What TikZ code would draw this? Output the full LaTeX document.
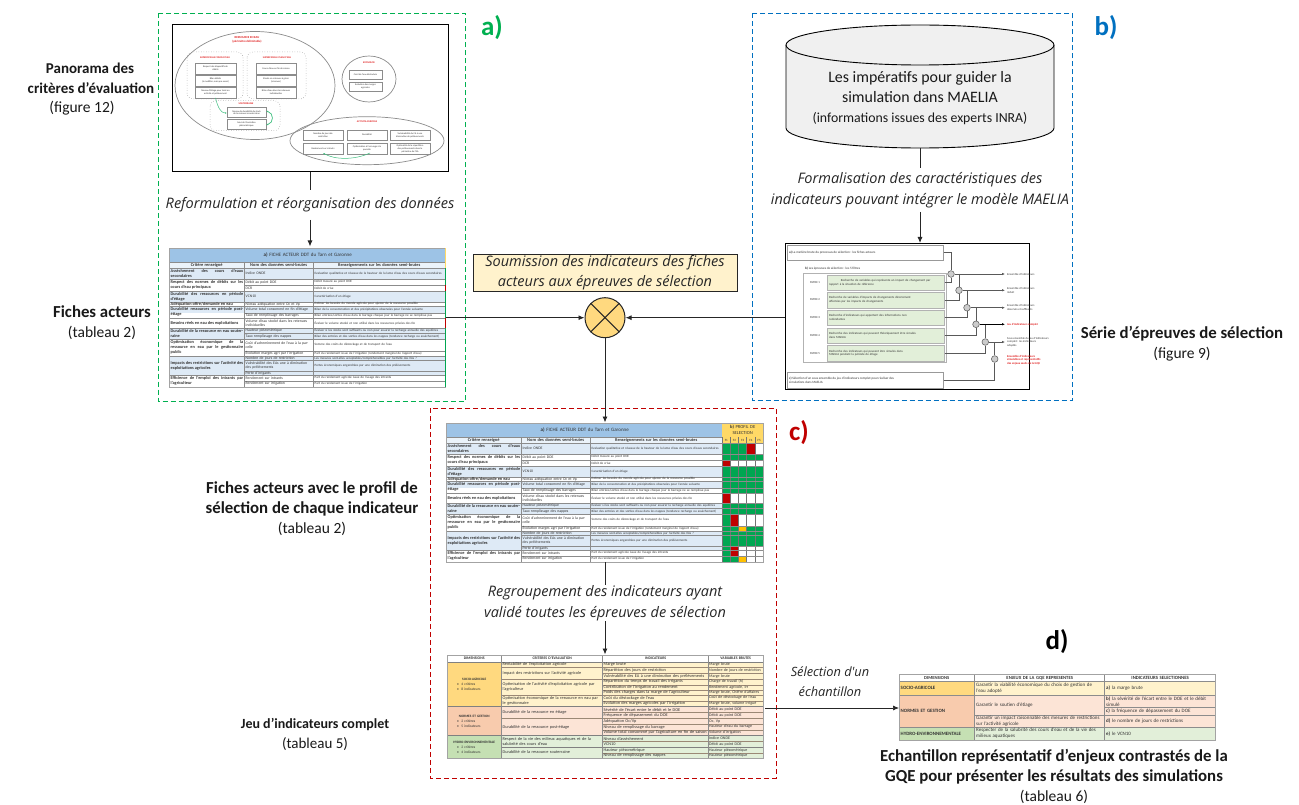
\documentclass[tikz,border=0pt]{standalone}
\usepackage{fontspec}
\setmainfont{Carlito}
\newfontfamily\itf{Open Sans}
\usetikzlibrary{arrows.meta,calc}
\definecolor{tb}{HTML}{DEEAF6}
\definecolor{tw}{HTML}{FFFFFF}
\definecolor{thead}{HTML}{9DC3E6}
\definecolor{tgrid}{HTML}{8C8C8C}
\definecolor{pg}{HTML}{00A651}
\definecolor{pr}{HTML}{C00000}
\definecolor{po}{HTML}{FFC000}
\definecolor{pw}{HTML}{FFFFFF}
\definecolor{phead}{HTML}{FFD966}
\definecolor{sd}{HTML}{FFD97F}
\definecolor{sc}{HTML}{FFF2CC}
\definecolor{nd}{HTML}{F8CBAD}
\definecolor{nc}{HTML}{FCE4D6}
\definecolor{hd}{HTML}{C5E0B3}
\definecolor{hc}{HTML}{E2EFD9}
\definecolor{fgreen}{HTML}{E2EFD9}
\definecolor{frA}{HTML}{00B050}
\definecolor{frB}{HTML}{0070C0}
\definecolor{frC}{HTML}{C00000}
\definecolor{ink}{HTML}{333333}
\definecolor{redt}{HTML}{E02020}
\definecolor{curve}{HTML}{40C080}
\newcounter{cl}
\newcommand{\fs}[1]{\fontsize{#1}{\dimexpr #1pt*12/10\relax}\selectfont}
\newcommand{\pa}[1]{\fontsize{#1}{20}\selectfont}
% small text: x, y centre, width, size, text
\newcommand{\cel}[6][left]{\stepcounter{cl}\node[celltext,align=#1,text width=#4,font=\fs{#5}] (t\arabic{cl}) at (#2,#3) {#6};}
\newcommand{\fichetable}{%
  \foreach \ya/\yb/\cc in {443/454/tb,454/466/tw,466/477/tb,477/481/tw,481/488/tb,488/493/tw,493/503/tw,503/514/tb,514/531/tw,531/550/tb,550/562/tw}
    {\fill[\cc] (446,\ya) rectangle (722,\yb);}
  \fill[thead] (446,423) rectangle (722,437);
  \fill[tb!60] (446,437) rectangle (722,443);
  \foreach \yy in {443,454,466,477,481,493,503,514,531,550}{\draw[tline] (446,\yy) -- (722,\yy);}
  \foreach \yy in {437,460,488,508.5,526,535.5,546,556}{\draw[tline] (521,\yy) -- (722,\yy);}
  \draw[tline] (446,437) -- (521,437);
  \foreach \xx in {521,590}{\draw[tline] (\xx,437) -- (\xx,562);}
  \draw[tframe] (446,423) rectangle (722,562);
  \cel[center]{447}{430}{275}{5}{\textbf{a)} FICHE ACTEUR DDT du Tarn et Garonne}
  \cel[center]{447}{440}{73}{4.4}{\textbf{Critère renseigné}}
  \cel[center]{522}{440}{67}{4.4}{\textbf{Nom des données semi-brutes}}
  \cel[center]{591}{440}{130}{4.3}{\textbf{Renseignements sur les données semi-brutes}}
  \foreach \yc/\tx in {448.5/{Assèchement des cours d'eaux secondaires},460/{Respect des normes de débits sur les cours d'eau principaux},471.5/{Durabilité des ressources en période d'étiage},479/{Adéquation offre/demande en eau},487/{Durabilité ressources en période post-étiage},498/{Besoins réels en eau des exploitations},508.5/{Durabilité de la ressource en eau souterraine},522.5/{Optimisation économique de la ressource en eau par le gestionnaire public},540.5/{Impacts des restrictions sur l'activité des exploitations agricoles},556/{Efficience de l'emploi des intrants par l'agriculteur}}
    {\cel[justify]{447.5}{\yc}{72.5}{4.3}{\textbf{\tx}}}
  \foreach \yc/\tx in {448.5/{Indice ONDE},457/{Débit au point DOE},463/{DCR},471.5/{VCN10},479/{Niveau adéquation entre Oc et Vp},484.5/{Volume total consommé en fin d'étiage},490.5/{Taux de remplissage des barrages},498/{Volume d'eau stocké dans les retenues individuelles},505.7/{Hauteur piézométrique},511.3/{Taux remplissage des nappes},520/{Coût d'acheminement de l'eau à la parcelle},528.5/{Évolution marges agri par l'irrigation},533.2/{Nombre de jours de restriction},540.7/{Vulnérabilité des EAs une à diminution des prélèvements},548/{Perte d'irrigants},553/{Rendement sur intrants},559/{Rendement sur irrigation}}
    {\cel{522.5}{\yc}{66}{3.8}{\tx}}
  \foreach \yc/\tx in {448.5/{Evaluation qualitative et niveaux de la hauteur de la lame d'eau des cours d'eaux secondaires},457/{Débit mesuré au point DOE},463/{Débit de crise},471.5/{Caractérisation d'un étiage},479/{Estimer les besoins du monde agricole pour ajuster de la ressource possible},484.5/{Bilan de la consommation et des précipitations observées pour l'année suivante},490.5/{Bilan entrées/sorties d'eau dans le barrage chaque jour le barrage ne se remplisse pas},498/{Évaluer le volume stocké et non utilisé dans les ressources privées des EA},505.7/{Évaluer si les stocks sont suffisants ou non pour assurer la recharge annuelle des aquifères},511.3/{Bilan des entrées et des sorties d'eau dans les nappes (tendance recharge ou assèchement)},520/{Somme des coûts de déstockage et de transport de l'eau},528.5/{Part du rendement issue de l'irrigation (rendement marginal de l'apport d'eau)},533.2/{Les mesures sont-elles acceptables/compréhensibles par l'activité des EAs ?},540.7/{Pertes économiques engendrées par une diminution des prélèvements},553/{Part du rendement agricole issue de l'usage des intrants},559/{Part du rendement issue de l'irrigation}}
    {\cel{591.5}{\yc}{130}{3.25}{\tx}}
}
\newcommand{\jeuline}[2]{\draw[jline] (#1,#2) -- (763,#2);}
\tikzset{
  celltext/.style={anchor=west,inner sep=0pt,text=ink},
  tline/.style={draw=tgrid,line width=.45pt},
  tframe/.style={draw=tgrid!80,line width=.9pt},
  jline/.style={draw=tgrid!70!brown,line width=.4pt},
  conn/.style={draw=black!85,line width=.95pt},
  arr/.style={conn,-{Latex[length=6pt,width=5pt]}},
  lbl/.style={inner sep=0pt,align=center,font=\fontsize{16.8}{20}\selectfont,text=black!90},
  itl/.style={inner sep=0pt,align=center,font=\itf\itshape\fontsize{14.5}{20.5}\selectfont,text=black!85},
  frlab/.style={inner sep=0pt,font=\bfseries\fontsize{27}{27}\selectfont},
  dbox/.style={draw=black!45,line width=.6pt,fill=white},
  dotbox/.style={draw=black!45,line width=.5pt,dotted,rounded corners=6pt},
  oval/.style={draw=black!45,line width=.7pt},
  tree/.style={draw=black!65,line width=.6pt},
  treearr/.style={tree,-{Latex[length=3pt,width=2.5pt]}},
  junct/.style={circle,draw=black!60,fill=black!20,line width=.6pt,inner sep=0pt,minimum size=6.6pt},
  thumb/.style={inner sep=0pt,align=center,font=\fs{2.8},text=ink},
  redh/.style={inner sep=0pt,align=center,font=\bfseries\fs{3},text=redt},
  filt/.style={draw=black!30,fill=fgreen,line width=.5pt,inner sep=0pt,align=left},
  side/.style={inner sep=0pt,anchor=west,font=\fs{2.9},text=ink,align=left},
  sider/.style={side,font=\bfseries\fs{2.9},text=redt}
}
\begin{document}
\begin{tikzpicture}[x=1pt,y=-1pt]
\useasboundingbox (0,0) rectangle (1299,805);
\fill[white] (0,0) rectangle (1299,805);

% ---- dashed frames
\draw[frA,dashed,line width=1pt,dash pattern=on 5pt off 3pt] (158,13.5) rectangle (465,401);
\draw[frB,dashed,line width=1pt,dash pattern=on 5pt off 3pt] (752,13.5) rectangle (1072,400);
\draw[frC,dashed,line width=1pt,dash pattern=on 5pt off 3pt] (430,408) rectangle (776,778);
\node[frlab,text=frA] (la) at (492,28) {a)};
\node[frlab,text=frB] (lb) at (1106,28) {b)};
\node[frlab,text=frC] (lc) at (799,433) {c)};
\node[frlab,text=black] (ld) at (1057,642) {d)};

% ---- panorama thumbnail
\node[draw=black,line width=1.2pt,minimum width=276pt,minimum height=147pt,inner sep=0pt,anchor=north west] (pano) at (172,24) {};
\draw[oval] (255,85.5) ellipse (80 and 54);
\draw[dotbox] (187,52) rectangle (243,99);
\draw[dotbox] (247,52) rectangle (306,99);
\draw[dotbox,fill=white] (210,100.7) rectangle (280,130.7);
\draw[oval] (369,79) ellipse (27 and 23);
\draw[oval] (367,140.7) ellipse (77 and 24);
\node[redh] (r1) at (247,39.5) {RESSOURCE EN EAU\\(périmètre délimitable)};
\node[redh,font=\bfseries\fs{2.5}] (r2) at (215,58) {SUPERFICIELLE COURS D'EAU};
\node[redh,font=\bfseries\fs{2.5}] (r3) at (277,58) {SUPERFICIELLE PLAN D'EAU};
\node[redh,font=\bfseries\fs{2.5}] (r4) at (246,104) {SOUTERRAINE};
\node[redh,font=\bfseries\fs{2.5}] (r5) at (369,63) {ECONOMIE};
\node[redh,font=\bfseries\fs{2.5}] (r6) at (367,122) {ACTIVITE AGRICOLE};
\foreach \xa/\ya/\xb/\yb/\nm/\tx in {
 195/63/236/74/p1/{Respect des dispositifs de\\débits},
 195/75/236/86/p2/{Bilan débits\\(à modifier, mais pas assez)},
 195/87/236/98/p3/{Niveau d'étiage pour tenir en\\activité et prélèvement},
 256/63/296/74/p4/{Cours d'eau en fin de saison},
 256/75/296/86/p5/{Stocks en retenues à gérer\\(réserves)},
 256/87/296/98/p6/{Bilan d'eau dans les retenues\\individuelles},
 227/107.7/266/117.7/p7/{Niveau de durabilité du stock\\de la ressource souterraine},
 227/119.3/266/129/p8/{Suivi de l'évolution\\piézométrique},
 349/70/382/79.3/p9/{Coût de l'eau déstockée},
 349/82.3/382/91/p10/{Evolution des marges\\agricoles},
 303/130/343/140/p11/{Nombre de jours de\\restriction},
 347/130/387/140/p12/{Durabilité},
 390/130/430/140/p13/{Vulnérabilité du CA à une\\diminution de prélèvements},
 303/143/343/154/p14/{Rendement sur intrants},
 347/143/387/154/p15/{Optimisation à l'arrosage à la\\parcelle},
 390/143/430/154/p16/{Optimalité de la répartition\\des prélèvements dans le\\périmètre de l'EA}}
 {\draw[dbox] (\xa,\ya) rectangle (\xb,\yb);
  \node[thumb,font=\fs{2.4}] (\nm) at ({(\xa+\xb)/2},{(\ya+\yb)/2}) {\tx};}
\draw[curve,line width=.5pt,-{Latex[length=2pt,width=1.6pt]}] (215.5,98) .. controls (218,108) and (221,113) .. (227,113);
\draw[curve,line width=.7pt,{Latex[length=2pt,width=1.6pt]}-{Latex[length=2pt,width=1.6pt]}] (266,111) .. controls (274,113) and (274,123) .. (266,125);
\draw[curve,line width=.5pt,{Latex[length=2pt,width=1.6pt]}-] (323,153) .. controls (335,160) and (355,160) .. (370,153);

\coordinate (pa) at (310,190);
\node[itl] (t1) at (310,205) {Reformulation et réorganisation des données};
\coordinate (pb) at (310,220);
\draw[conn] (pano.south -| pa) -- (pa);
\draw[arr] (pb) -- (310,246.5);

% ---- fiche a)
\begin{scope}[shift={(-277,-175)}]
  \fichetable
  \fill[phead] (722.4,423) rectangle (723.4,443);
  \foreach \ya/\yb/\cc in {443/460/pg,460/466/pr,466/493/pg,493/503/pr,503/562/pg}{\fill[\cc] (722.4,\ya) rectangle (723.4,\yb);}
  \coordinate (fa) at (722,493);
\end{scope}
\coordinate (fb) at (446,247);

% ---- side labels
\node[lbl,font=\bfseries\fontsize{15}{20}\selectfont] (s1a) at (90,68) {Panorama des};
\node[lbl,font=\bfseries\fontsize{15}{20}\selectfont] (s1b) at (91,88) {critères d'évaluation};
\node[lbl,font=\fontsize{15.5}{20}\selectfont] (s1c) at (82,108) {(figure 12)};
\node[lbl] (s2) at (102,323) {\textbf{Fiches acteurs}\\\pa{15.5}(tableau 2)};
\node[lbl] (s3) at (1182,344) {\textbf{Série d'épreuves de sélection}\\\pa{15.5}(figure 9)};
\node[lbl] (s4) at (312,508.5) {\textbf{Fiches acteurs avec le profil de}\\\textbf{sélection de chaque indicateur}\\\pa{15.5}(tableau 2)};
\node[lbl,font=\fontsize{14}{20}\selectfont] (s5) at (315,734) {\textbf{Jeu d'indicateurs complet}\\\pa{15}(tableau 5)};
\node[lbl] (s6) at (1054,776.5) {\textbf{Echantillon représentatif d'enjeux contrastés de la}\\\textbf{GQE pour présenter les résultats des simulations}\\\pa{15.5}(tableau 6)};

% ---- cylinder
\fill[black!6] (786,45) arc[start angle=180,end angle=360,x radius=134,y radius=20] -- (1054,128) arc[start angle=0,end angle=180,x radius=134,y radius=20] -- cycle;
\draw[black,line width=.9pt] (786,45) arc[start angle=180,end angle=-180,x radius=134,y radius=20];
\draw[black,line width=.9pt] (786,45) -- (786,128) arc[start angle=180,end angle=0,x radius=134,y radius=20] -- (1054,45);
\node[lbl,font=\fontsize{15.9}{20}\selectfont] (cy) at (920,98) {Les impératifs pour guider la\\simulation dans MAELIA\\\pa{13.8}(informations issues des experts INRA)};
\coordinate (cyb) at (920,148);
\coordinate (cyc) at (920,168);
\node[itl] (t2) at (920,190) {Formalisation des caractéristiques des\\indicateurs pouvant intégrer le modèle MAELIA};
\coordinate (cyd) at (920,212);
\draw[conn] (cyb) -- (cyc);

% ---- filters thumbnail
\node[draw=black,line width=1.2pt,minimum width=244pt,minimum height=146pt,inner sep=0pt,anchor=north west] (ser) at (785,243) {};
\draw[arr] (cyd) -- (ser.north -| cyd);
\node[dbox,draw=black!40,inner sep=0pt,minimum width=156pt,minimum height=15pt,anchor=north west] (ba) at (787,245) {};
\node[thumb,anchor=west,font=\fs{3.3}] (bat) at (789,252.5) {\textbf{a)} La matière brute du processus de sélection : les fiches acteurs};
\node[thumb,anchor=west,font=\fs{3.3}] (bbt) at (805,269) {\textbf{b)} Les épreuves de sélection : les 5 filtres};
\node[draw=black!30,fill=white,line width=.8pt,inner sep=0pt,minimum width=143pt,minimum height=89pt,anchor=north west] (bb) at (803,273) {};
\foreach \nm/\yy/\hh/\lab/\tx in {
 f1/275/15/1/{\centering Recherche de variables qui représente un impact de changement par\\ rapport à la situation de référence},
 f2/292.3/15.4/2/{Recherche de variables d'impacts de changements directement\\ affectées par les impacts de changements},
 f3/310/15/3/{Recherche d'indicateurs qui apportent des informations non\\ redondantes},
 f4/327.7/15.6/4/{Recherche des indicateurs qui peuvent théoriquement être simulés\\ dans MAELIA},
 f5/345.3/15.7/5/{Recherche des indicateurs qui peuvent être simulés dans\\ MAELIA pendant la période de étiage}}
 {\node[filt,minimum width=117pt,minimum height=\hh pt,anchor=north west] (\nm) at (827,\yy) {};
  \node[thumb,anchor=west,align=left,text width=113pt,font=\fs{3.1}] (\nm t) at (829,\yy+\hh/2) {\tx};
  \node[thumb,font=\fs{3}] (\nm l) at (815,\yy+\hh/2) {FILTRE \lab};}
\node[dbox,draw=black!40,inner sep=0pt,minimum width=156pt,minimum height=16pt,anchor=north west] (bc) at (787,372) {};
\node[thumb,anchor=west,align=left,font=\fs{3.3}] (bct) at (789,380) {\textbf{c)} Sélection d'un sous ensemble du jeu d'indicateurs complet pour réaliser des\\simulations dans MAELIA};
\foreach \nm/\xx/\yy in {c1/951/274,c2/959/290.3,c3/967/307.7,c4/976/324.3,c5/985.3/342,c6/994.7/359}
 {\node[junct] (\nm) at (\xx,\yy) {};}
\draw[tree] (ba.east) -| (c1);
\draw[tree] (f1.east) -| (c1);
\draw[tree] (f2.east) -| (c2);
\draw[tree] (f3.east) -| (c3);
\draw[tree] (f4.east) -| (c4);
\draw[tree] (f5.east) -| (c5);
\draw[tree] (bc.east) -| (c6);
\draw[tree] (c2|-c1) -- (c2);
\draw[tree] (c3|-c2) -- (c3);
\draw[tree] (c4|-c3) -- (c4);
\draw[tree] (c5|-c4) -- (c5);
\draw[tree] (c6|-c5) -- (c6);
\foreach \nm/\yy in {e1/274,e2/290.3,e3/307.7,e4/324.3,e5/342}{\coordinate (\nm) at (1005,\yy);}
\draw[treearr] (c1) -- (e1);
\draw[treearr] (c2) -- (e2);
\draw[treearr] (c3) -- (e3);
\draw[treearr,draw=black] (c4) -- (e4);
\draw[treearr] (c5) -- (e5);
\node[side] (l1) at (1007,274) {Ensemble d'indicateurs};
\node[side] (l2) at (1007,290.3) {Ensemble d'indicateurs\\réduit};
\node[side] (l3) at (1007,307.7) {Ensemble d'indicateurs\\observés et suffisants};
\node[sider] (l4) at (1007,324.3) {Jeu d'indicateurs complet};
\node[side] (l5) at (1007,342) {Sous ensemble du jeu d'indicateurs\\complet : les indicateurs\\adaptés};
\node[sider] (l6) at (1007,360) {Ensemble d'indicateurs\\simulables et représentatifs\\des enjeux seuils de la GQE};

% ---- soumission + junction
\node[draw=black!85,fill=sc,line width=1pt,inner sep=0pt,minimum width=264pt,minimum height=37pt,anchor=north west] (sm) at (473,254) {};
\node[itl] (smt) at (605,272.5) {Soumission des indicateurs des fiches\\acteurs aux épreuves de sélection};
\node[circle,draw=black!85,fill=sd,line width=1pt,minimum size=40pt,inner sep=0pt] (m) at (605,317.7) {};
\draw[black!85,line width=1pt] (m.45) -- (m.225) (m.135) -- (m.315);
\draw[arr] (fb |- m) -- (m.west);
\draw[arr] (ser.west |- m) -- (m.east);

% ---- fiche c) + profile
\fichetable
\fill[phead] (722,423) rectangle (763,443);
\cel[center]{722}{430}{41}{4.6}{\textbf{b)} PROFIL DE\\SELECTION}
\foreach \ya/\yb/\lst in {
 443/454/{pg,pg,pg,pr,pw},454/460/{pg,pg,pg,pg,pg},460/466/{pr,pw,pw,pw,pw},466/493/{pg,pg,pg,pg,pg},
 493/503/{pr,pw,pw,pw,pw},503/514/{pg,pg,pg,pg,pg},514/526/{pg,pr,pw,pw,pw},526/531/{pg,pg,po,pg,pg},
 531/546/{pg,pg,pg,pg,pg},546/556/{pg,pr,pw,pw,pw},556/562/{pg,pg,po,pw,pw}}
 {\foreach \cc [count=\i from 0] in \lst {\fill[\cc] ({722+8.2*\i},\ya) rectangle ({730.2+8.2*\i},\yb);}}
\foreach \xx in {722,730.2,738.4,746.6,754.8}{\draw[tline,draw=black!55] (\xx,437) -- (\xx,562);}
\foreach \yy in {443,454,460,466,477,481,488,493,503,508.5,514,526,531,535.5,546,550,556}{\draw[tline,draw=black!45] (722,\yy) -- (763,\yy);}
\foreach \i/\tx in {0/F1,1/F2,2/F3,3/F4,4/F5}{\cel[center]{722+8.2*\i}{440}{8.2}{3.2}{\tx}}
\draw[tframe] (446,423) rectangle (763,562);
\coordinate (tcn) at (605,422.5);
\draw[arr] (m.south) -- (tcn);
\coordinate (tcs) at (605,562);
\coordinate (u1) at (605,585);
\node[itl] (t3) at (605,603) {Regroupement des indicateurs ayant\\validé toutes les épreuves de sélection};
\coordinate (u2) at (605,621);
\draw[conn] (tcs) -- (u1);
\draw[arr] (u2) -- (605,654.5);

% ---- jeu d'indicateurs table
\fill[white] (447,655) rectangle (763,662);
\fill[sd] (447,662) rectangle (501.5,706.7);
\fill[nd] (447,706.7) rectangle (501.5,735.7);
\fill[hd] (447,735.7) rectangle (501.5,758);
\fill[sc] (501.5,662) rectangle (763,706.7);
\fill[nc] (501.5,706.7) rectangle (763,735.7);
\fill[hc] (501.5,735.7) rectangle (763,758);
\foreach \yy in {662,706.7,735.7}{\draw[tline,draw=black!50] (447,\yy) -- (763,\yy);}
\foreach \yy in {667.3,679,695,718.3}{\draw[jline] (501.5,\yy) -- (763,\yy);}
\foreach \yy in {673,684.7,690.3,700.7,712.3,724,729.7,741.5,753.3}{\jeuline{602.5}{\yy}}
\draw[tline,draw=black!50] (501.5,747) -- (763,747);
\foreach \xx in {501.5,602.5,708}{\draw[tline] (\xx,655) -- (\xx,758);}
\draw[tframe] (447,655) rectangle (763,758);
\cel[center]{447}{658.5}{54}{3.8}{\textbf{DIMENSIONS}}
\cel[center]{502}{658.5}{100}{3.8}{\textbf{CRITERES D'EVALUATION}}
\cel[center]{603}{658.5}{105}{3.8}{\textbf{INDICATEURS}}
\cel[center]{708.5}{658.5}{54}{3.8}{\textbf{VARIABLES BRUTES}}
\foreach \yc/\a/\b/\c in {684/SOCIO-AGRICOLE/4 critères/8 indicateurs,721/NORMES ET GESTION/2 critères/5 indicateurs,747/HYDRO-ENVIRONNEMENTALE/2 critères/4 indicateurs}
 {\cel[center]{447}{\yc-5}{54}{3.4}{\textbf{\a}}
  \cel{457}{\yc}{44}{3.6}{\textbullet\ \ \b}
  \cel{457}{\yc+5}{44}{3.6}{\textbullet\ \ \c}}
\foreach \yc/\tx in {664.7/{Rentabilité de l'exploitation agricole},673.2/{Impact des restrictions sur l'activité agricole},687/{Optimisation de l'activité d'exploitation agricole par l'agriculteur},700.9/{Optimisation économique de la ressource en eau par le gestionnaire},712.5/{Durabilité de la ressource en étiage},727/{Durabilité de la ressource post-étiage},741.5/{Respect de la vie des milieux aquatiques et de la salubrité des cours d'eau},752.5/{Durabilité de la ressource souterraine}}
 {\cel{502.5}{\yc}{99}{4.3}{\tx}}
\foreach \yc/\tx in {664.7/{Marge brute},670.2/{Répartition des jours de restriction},676/{Vulnérabilité des EA à une diminution des prélèvements},681.8/{Répartition du temps de travail des irrigants},687.5/{Contribution de l'irrigation au rendement},692.6/{Poids des charges dans la marge de l'agriculteur},697.9/{Coût du déstockage de l'eau},703.7/{Evolution des marges agricoles par l'irrigation},709.5/{Sévérité de l'écart entre le débit et le DOE},715.3/{Fréquence de dépassement du DOE},721.2/{Adéquation Oc/Vp},726.9/{Niveau de remplissage du barrage},732.7/{Volume total consommé par l'agriculture en fin de saison},738.6/{Niveau d'assèchement},744.3/{VCN10},750.2/{Hauteur piézométrique},755.7/{Niveau de remplissage des nappes}}
 {\cel{603.5}{\yc}{104}{4.3}{\tx}}
\foreach \yc/\tx in {664.7/{Marge brute},670.2/{Nombre de jours de restriction},676/{Marge brute},681.8/{Charge de travail (h)},687.5/{Rendement agricole, Irr},692.6/{Marge brute, Chiffre d'affaires},697.9/{Coût de déstockage de l'eau},703.7/{Marge brute, volume irrigué},709.5/{Débit au point DOE},715.3/{Débit au point DOE},721.2/{Oc, Vp},726.9/{Hauteur d'eau du barrage},732.7/{Volume d'irrigation},738.6/{Indice ONDE},744.3/{Débit au point DOE},750.2/{Hauteur piézométrique},755.7/{Hauteur piézométrique}}
 {\cel{709}{\yc}{53}{4}{\tx}}
\coordinate (jr) at (765,708);

% ---- table d
\fill[white] (899,674) rectangle (1215,681.7);
\fill[sd] (899,681.7) rectangle (974.5,695);
\fill[nd] (899,695) rectangle (974.5,727.3);
\fill[hd] (899,727.3) rectangle (974.5,740);
\fill[sc] (974.5,681.7) rectangle (1215,695);
\fill[nc] (974.5,695) rectangle (1215,727.3);
\fill[hc] (974.5,727.3) rectangle (1215,740);
\foreach \yy in {681.7,695,727.3}{\draw[tline] (899,\yy) -- (1215,\yy);}
\draw[tline] (974.5,715) -- (1215,715);
\draw[tline] (1104.5,707.7) -- (1215,707.7);
\foreach \xx in {974.5,1104.5}{\draw[tline] (\xx,674) -- (\xx,740);}
\draw[tframe] (899,674) rectangle (1215,740);
\node[draw=none,inner sep=0pt,minimum width=316pt,minimum height=66pt,anchor=north west] (td) at (899,674) {};
\cel[center]{899}{678}{75}{4.6}{\textbf{DIMENSIONS}}
\cel[center]{975}{678}{129}{4.7}{\textbf{ENJEUX DE LA GQE REPRESENTES}}
\cel[center]{1105}{678}{110}{4.8}{\textbf{INDICATEURS SELECTIONNES}}
\cel{900.5}{688.3}{73}{4.9}{\textbf{SOCIO-AGRICOLE}}
\cel{900.5}{711}{73}{4.9}{\textbf{NORMES ET GESTION}}
\cel{900.5}{733.6}{73}{4.9}{\textbf{HYDRO-ENVIRONNEMENTALE}}
\cel{976}{688.3}{127}{5}{Garantir la viabilité économique du choix de gestion de\\l'eau adopté}
\cel{976}{705}{127}{5}{Garantir le soutien d'étiage}
\cel{976}{721.2}{127}{5}{Garantir un impact raisonnable des mesures de restrictions sur l'activité agricole}
\cel{976}{733.6}{127}{5}{Respecter de la salubrité des cours d'eau et de la vie des\\milieux aquatiques}
\cel{1106}{688.3}{108}{5}{\textbf{a)} la marge brute}
\cel{1106}{701.4}{108}{5}{\textbf{b)} la sévérité de l'écart entre le DOE et le débit\\simulé}
\cel{1106}{711.3}{108}{5}{\textbf{c)} la fréquence de dépassement du DOE}
\cel{1106}{721.2}{108}{5}{\textbf{d)} le nombre de jours de restrictions}
\cel{1106}{733.6}{108}{5}{\textbf{e)} le VCN10}
\draw[conn,line width=.7pt,-{Latex[length=6pt,width=5pt]}] (jr) -- (td.west |- jr);
\node[itl,font=\itf\itshape\fontsize{12.8}{20}\selectfont] (t4) at (830,682) {Sélection d'un\\échantillon};
\end{tikzpicture}
\end{document}
